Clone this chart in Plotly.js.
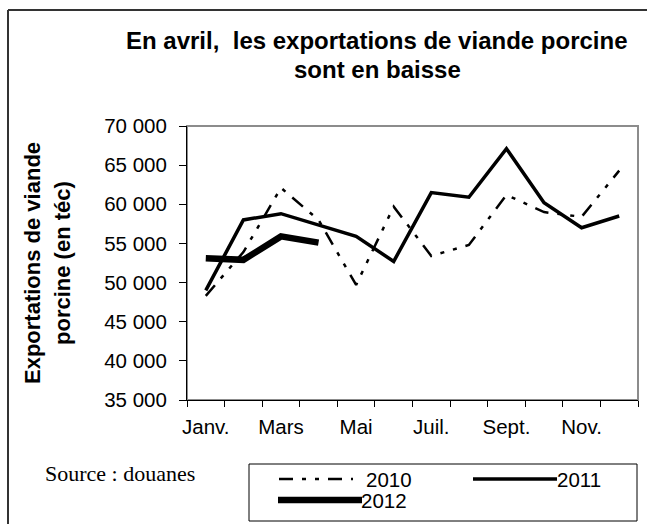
<!DOCTYPE html>
<html>
<head>
<meta charset="utf-8">
<script src="https://cdn.plot.ly/plotly-3.0.1.min.js"></script>
<style>
  html, body { margin: 0; padding: 0; background: #fff; }
  #chart { width: 647px; height: 524px; }
</style>
</head>
<body>
<div id="chart"></div>
<script>
// Monthly pork exports (tonnes équivalent carcasse)
const months = ['Janv.', 'Févr.', 'Mars', 'Avr.', 'Mai', 'Juin', 'Juil.', 'Août', 'Sept.', 'Oct.', 'Nov.', 'Déc.'];
const monthTicks = ['Janv.', '', 'Mars', '', 'Mai', '', 'Juil.', '', 'Sept.', '', 'Nov.', ''];
const years = ['2010', '2011', '2012'];
const exports2010 = [48300, 53900, 62100, 58000, 49700, 59700, 53400, 54800, 61200, 59000, 58400, 64300];
const exports2011 = [49000, 58000, 58800, 57400, 55900, 52700, 61500, 60900, 67100, 60200, 57000, 58500];
const exports2012 = [53100, 52900, 55900, 55100];

const FONT = 'Liberation Sans, Arial, sans-serif';
const W = 647, H = 524;
const M = { l: 187, r: 9, t: 126, b: 124 };
const plotW = W - M.l - M.r, plotH = H - M.t - M.b;

// pixel -> paper helpers for the decorations
const px = x => (x - M.l) / plotW;
const py = y => (H - M.b - y) / plotH;

const lineStyles = [
    { color: '#000', width: 2.5, dash: '14px,9px,4px,9px,4px,9px' },
    { color: '#000', width: 3.5, dash: 'solid' },
    { color: '#000', width: 6.5, dash: 'solid' }
];
const seriesValues = [exports2010, exports2011, exports2012];

const traces = seriesValues.map((vals, i) => ({
    x: months.slice(0, vals.length),
    y: vals,
    name: years[i],
    type: 'scatter',
    mode: 'lines',
    line: lineStyles[i],
    showlegend: false
}));

// hand-made legend (long line samples like the original)
const legendItems = [
    { x0: 279, x1: 353, y: 479, tx: 364 },
    { x0: 473, x1: 557, y: 479, tx: 555 },
    { x0: 278, x1: 362, y: 500, tx: 359 }
];

const shapes = [
    // outer chart border: only top and left edges fall inside the picture
    { type: 'line', xref: 'paper', yref: 'paper', x0: px(8), x1: px(647), y0: py(10), y1: py(10),
      line: { color: '#333', width: 2 }, layer: 'below' },
    { type: 'line', xref: 'paper', yref: 'paper', x0: px(8), x1: px(8), y0: py(10), y1: py(524),
      line: { color: '#333', width: 2 }, layer: 'below' },
    // plot area frame (top/right in grey)
    { type: 'rect', xref: 'paper', yref: 'paper', x0: 0, x1: 1, y0: 0, y1: 1,
      line: { color: '#8c8c8c', width: 2 }, layer: 'below' },
    // legend box
    { type: 'rect', xref: 'paper', yref: 'paper', x0: px(249), x1: px(637), y0: py(521), y1: py(464),
      line: { color: '#000', width: 1 } }
];
legendItems.forEach((it, i) => {
    shapes.push({ type: 'line', xref: 'paper', yref: 'paper',
        x0: px(it.x0), x1: px(it.x1), y0: py(it.y), y1: py(it.y),
        line: { color: '#000', width: lineStyles[i].width, dash: lineStyles[i].dash } });
});

const annotations = [
    { text: '<b>En avril,  les exportations de viande porcine</b>', x: px(377), y: py(40), size: 24 },
    { text: '<b>sont en baisse</b>', x: px(377), y: py(69), size: 24 },
    { text: '<b>Exportations de viande</b>', x: px(32), y: 0.5, textangle: -90, size: 22 },
    { text: '<b>porcine (en téc)</b>', x: px(62), y: 0.5, textangle: -90, size: 22 }
].map(a => ({ xref: 'paper', yref: 'paper', showarrow: false, xanchor: 'center', yanchor: 'middle',
    text: a.text, x: a.x, y: a.y, textangle: a.textangle || 0,
    font: { family: FONT, size: a.size, color: '#000' } }));

annotations.push({ text: 'Source : douanes', xref: 'paper', yref: 'paper', showarrow: false,
    x: px(43), y: py(473), xanchor: 'left', yanchor: 'middle',
    font: { family: 'Liberation Serif, Times New Roman, serif', size: 22, color: '#000' } });

legendItems.forEach((it, i) => {
    annotations.push({ text: years[i], xref: 'paper', yref: 'paper', showarrow: false,
        x: px(it.tx), y: py(it.y), xanchor: 'left', yanchor: 'middle',
        font: { family: FONT, size: 20.5, color: '#000' } });
});

const layout = {
    width: W,
    height: H,
    margin: M,
    paper_bgcolor: '#fff',
    plot_bgcolor: '#fff',
    separators: ', ',
    showlegend: false,
    font: { family: FONT, size: 20.5, color: '#000' },
    xaxis: {
        type: 'category',
        categoryorder: 'array',
        categoryarray: months,
        tickmode: 'array',
        tickvals: months,
        ticktext: monthTicks,
        tickson: 'boundaries',
        tickangle: 0,
        ticks: 'outside',
        ticklen: 6,
        tickcolor: '#000',
        ticklabelstandoff: 8,
        showline: true,
        linecolor: '#000',
        linewidth: 1,
        showgrid: false,
        zeroline: false,
        range: [-0.5, 11.5],
        tickfont: { family: FONT, size: 20.5, color: '#000' }
    },
    yaxis: {
        range: [35000, 70000],
        dtick: 5000,
        tick0: 35000,
        tickformat: ',d',
        ticks: 'outside',
        ticklen: 7,
        tickcolor: '#000',
        ticklabelstandoff: 8,
        showline: true,
        linecolor: '#000',
        linewidth: 1,
        showgrid: false,
        zeroline: false,
        tickfont: { family: FONT, size: 20.5, color: '#000' }
    },
    shapes: shapes,
    annotations: annotations
};

Plotly.newPlot('chart', traces, layout, { displayModeBar: false, staticPlot: true });
</script>
</body>
</html>
